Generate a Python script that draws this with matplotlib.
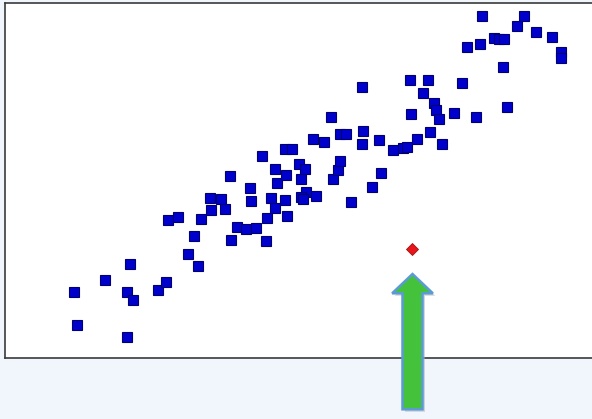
import matplotlib
matplotlib.use("Agg")
import matplotlib.pyplot as plt
from matplotlib.patches import FancyArrow

# Blue observations
x_vals = [7.0, 7.3, 10.1, 12.3, 12.8, 12.3, 12.6, 15.4, 16.2, 16.4,
          17.4, 18.4, 19.0, 19.4, 19.7, 20.6, 21.7, 20.7, 22.1, 22.6,
          22.7, 23.3, 24.2, 25.2, 24.6, 24.7, 25.8, 26.2, 26.3, 26.7,
          27.1, 27.3, 27.1, 28.1, 28.8, 28.2, 28.1, 28.3, 29.5, 30.1,
          29.7, 30.2, 29.7, 29.9, 30.9, 31.2, 32.0, 32.7, 32.9, 33.4,
          33.6, 33.6, 34.2, 34.7, 35.8, 35.9, 35.8, 36.8, 37.5, 37.7,
          38.9, 39.9, 40.3, 40.6, 42.4, 40.7, 41.3, 41.9, 42.6, 43.0,
          43.2, 43.5, 43.8, 45.0, 45.8, 47.2, 46.3, 47.6, 47.8, 49.0,
          49.5, 50.0, 49.9, 50.3, 51.2, 52.0, 53.2, 54.8, 55.7, 55.7]
y_vals = [6.6, 3.3, 7.8, 6.6, 5.8, 2.1, 9.4, 6.8, 7.6, 13.8,
          14.1, 10.4, 12.2, 9.2, 13.9, 16.0, 15.9, 14.8, 14.9, 18.2,
          11.8, 13.1, 12.9, 13.0, 17.0, 15.7, 20.2, 11.7, 14.0, 16.0,
          18.9, 17.5, 15.0, 20.9, 20.9, 18.3, 15.8, 14.2, 19.4, 18.9,
          17.9, 16.6, 16.1, 15.9, 21.9, 16.2, 21.6, 24.1, 17.9, 18.8,
          19.7, 22.4, 22.4, 15.6, 27.1, 22.7, 21.4, 17.1, 21.8, 18.5,
          20.8, 21.0, 21.1, 27.8, 27.8, 24.4, 21.9, 26.5, 22.6, 25.5,
          24.8, 23.9, 21.4, 24.5, 27.5, 24.1, 31.1, 31.4, 34.2, 32.0,
          31.9, 31.9, 29.1, 25.1, 33.2, 34.2, 32.6, 32.1, 30.6, 30.0]

# Outlier (red diamond)
outlier_x = [40.8]
outlier_y = [10.9]

W, H = 592, 419
fig = plt.figure(figsize=(W / 100, H / 100), dpi=100)
fig.patch.set_facecolor("#f1f6fd")

ax = fig.add_axes([4.5 / W, (H - 358.3) / H, 595.5 / W, (358.3 - 2.5) / H])
ax.set_facecolor("white")
ax.set_xlim(0, 59.55)
ax.set_ylim(0, 35.58)
ax.set_xticks([])
ax.set_yticks([])
for side in ["left", "top", "bottom"]:
    ax.spines[side].set_color("#3a3a3a")
    ax.spines[side].set_linewidth(1.2)
ax.spines["right"].set_visible(False)

ax.plot(x_vals, y_vals, linestyle="none", marker="s", markersize=6.6,
        markerfacecolor="#0000cc", markeredgecolor="#000070", markeredgewidth=0.8)
ax.plot(outlier_x, outlier_y, linestyle="none", marker="D", markersize=6.6,
        markerfacecolor="#e8151a", markeredgecolor="#a01010", markeredgewidth=0.6)

# Green arrow pointing at the outlier
tip_y = 8.43
base_y = -5.1
shadow = FancyArrow(outlier_x[0] + 0.25, base_y - 0.25, 0, tip_y - base_y,
                    width=2.0, head_width=4.07, head_length=1.93,
                    length_includes_head=True, facecolor="#b0b0b0",
                    edgecolor="none", alpha=0.5, clip_on=False, zorder=4)
ax.add_patch(shadow)
arrow = FancyArrow(outlier_x[0], base_y, 0, tip_y - base_y,
                   width=2.0, head_width=4.07, head_length=1.93,
                   length_includes_head=True, facecolor="#44c23c",
                   edgecolor="#5b9bd5", linewidth=1.8, clip_on=False, zorder=5)
ax.add_patch(arrow)

fig.savefig("out.png", dpi=100, facecolor=fig.get_facecolor())
